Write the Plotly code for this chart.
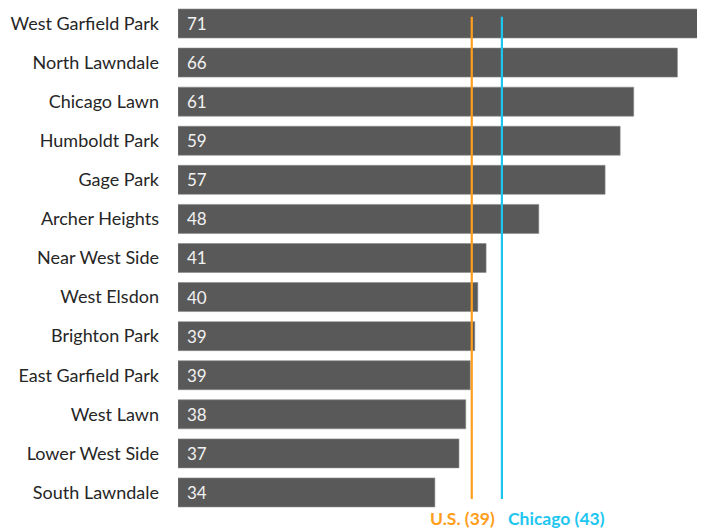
import plotly.graph_objects as go

# ── Data ──────────────────────────────────────────────────────────────────────
AREAS = [
    "West Garfield Park", "North Lawndale", "Chicago Lawn", "Humboldt Park",
    "Gage Park", "Archer Heights", "Near West Side", "West Elsdon",
    "Brighton Park", "East Garfield Park", "West Lawn", "Lower West Side",
    "South Lawndale",
]
VALUES = [71, 66.3, 60.5, 58.7, 56.7, 47.9, 40.9, 39.8, 39.4, 38.8, 38.2, 37.3, 34.1]
LABELS = ["71", "66", "61", "59", "57", "48", "41", "40", "39", "39", "38", "37", "34"]
US_AVG = 39
CHICAGO_AVG = 43

# ── Style ─────────────────────────────────────────────────────────────────────
BAR = "#595959"
ORANGE = "#FF9E1B"
CYAN = "#1DC6F0"
TEXT = "#262626"
FONT = "Lato, Carlito, sans-serif"

rows = list(range(len(AREAS)))

fig = go.Figure(go.Bar(
    x=VALUES,
    y=rows,
    orientation="h",
    marker=dict(color=BAR, line=dict(color="#8a8a8a", width=0.6)),
    hoverinfo="skip",
))

# value labels inside the bars, near the base
for r, lab in zip(rows, LABELS):
    fig.add_annotation(
        x=0, y=r, text=lab, showarrow=False,
        xanchor="left", xshift=7,
        font=dict(family=FONT, size=17, color="#F2F2F2"),
    )

# reference lines
for val, col in [(US_AVG, ORANGE), (CHICAGO_AVG, CYAN)]:
    fig.add_shape(
        type="line", x0=val, x1=val, y0=-0.17, y1=len(AREAS) - 1 + 0.17,
        xref="x", yref="y", line=dict(color=col, width=2.2),
    )

fig.add_annotation(
    x=CHICAGO_AVG, y=0, xref="x", yref="paper", text=f"<b>U.S. ({US_AVG})</b>",
    showarrow=False, xanchor="right", yanchor="middle", xshift=-5, yshift=-6,
    font=dict(family=FONT, size=17.5, color=ORANGE),
)
fig.add_annotation(
    x=CHICAGO_AVG, y=0, xref="x", yref="paper", text=f"<b>Chicago ({CHICAGO_AVG})</b>",
    showarrow=False, xanchor="left", yanchor="middle", xshift=4, yshift=-6,
    font=dict(family=FONT, size=17.5, color=CYAN),
)

# page body has an 8px margin, so the figure is sized/offset to compensate
fig.update_layout(
    width=689, height=521,
    paper_bgcolor="white", plot_bgcolor="white",
    margin=dict(l=170, r=0, t=0, b=17),
    bargap=0.258,
    showlegend=False,
    font=dict(family=FONT, size=18, color=TEXT),
    xaxis=dict(range=[0, 68.9], visible=False, showgrid=False, zeroline=False),
    yaxis=dict(
        range=[len(AREAS) - 0.5, -0.397],
        tickvals=rows, ticktext=AREAS,
        showgrid=False, zeroline=False, showline=False,
        ticks="", ticklabelstandoff=18, automargin=False,
        tickfont=dict(family=FONT, size=18, color=TEXT),
    ),
)

fig.write_html("out.html")
